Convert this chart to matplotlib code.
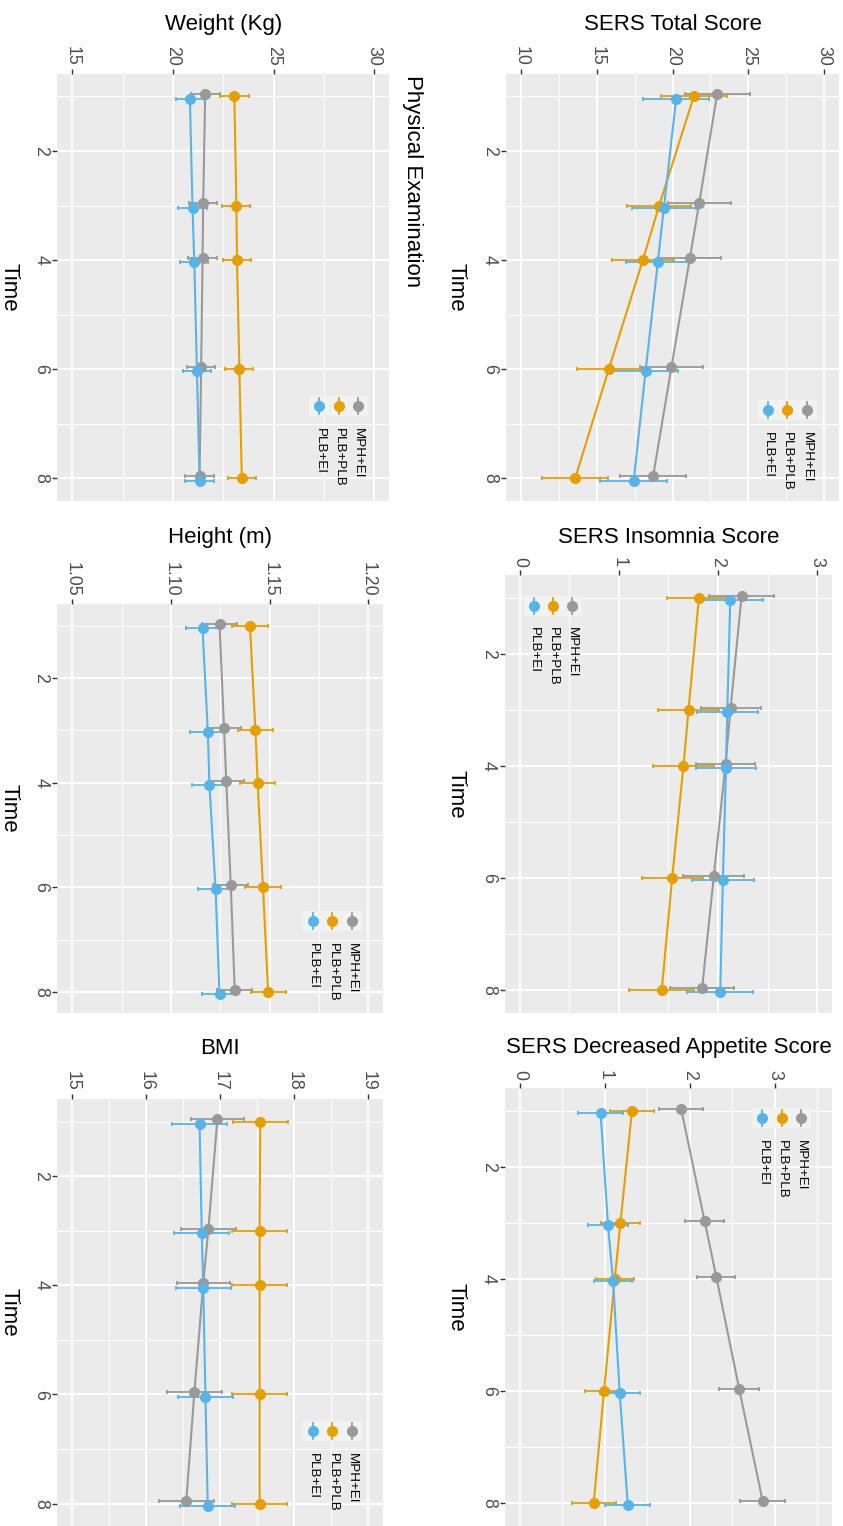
import matplotlib
matplotlib.use('Agg')
import matplotlib.pyplot as plt
from matplotlib.lines import Line2D
from matplotlib.patches import Rectangle
import numpy as np

plt.rcParams['font.family'] = ['Liberation Sans', 'DejaVu Sans']

W, H = 843, 1526
DPI = 100

# ---------------- data ----------------
time_points = [1, 3, 4, 6, 8]
groups = ['MPH+EI', 'PLB+PLB', 'PLB+EI']
colors = {'MPH+EI': '#999999', 'PLB+PLB': '#E69F00', 'PLB+EI': '#56B4E9'}

total_mph = [22.95, 21.76, 21.15, 19.93, 18.72]
total_mph_se = [2.15, 2.08, 2.08, 2.07, 2.16]
total_plb = [21.41, 19.12, 18.04, 15.79, 13.57]
total_plb_se = [2.18, 2.12, 2.07, 2.10, 2.17]
total_ei = [20.24, 19.43, 19.03, 18.22, 17.44]
total_ei_se = [2.18, 2.13, 2.12, 2.12, 2.20]

insom_mph = [2.238, 2.127, 2.076, 1.958, 1.840]
insom_mph_se = [0.326, 0.303, 0.301, 0.307, 0.325]
insom_plb = [1.807, 1.702, 1.651, 1.537, 1.432]
insom_plb_se = [0.327, 0.305, 0.308, 0.307, 0.329]
insom_ei = [2.123, 2.093, 2.080, 2.049, 2.022]
insom_ei_se = [0.331, 0.310, 0.307, 0.312, 0.335]

appet_mph = [1.899, 2.175, 2.313, 2.582, 2.858]
appet_mph_se = [0.260, 0.229, 0.223, 0.233, 0.262]
appet_plb = [1.319, 1.184, 1.117, 0.991, 0.869]
appet_plb_se = [0.257, 0.229, 0.225, 0.229, 0.260]
appet_ei = [0.951, 1.038, 1.098, 1.176, 1.271]
appet_ei_se = [0.266, 0.233, 0.225, 0.237, 0.265]

weight_mph = [21.60, 21.50, 21.47, 21.40, 21.32]
weight_mph_se = [0.72, 0.70, 0.70, 0.70, 0.71]
weight_plb = [23.05, 23.15, 23.18, 23.30, 23.42]
weight_plb_se = [0.71, 0.70, 0.70, 0.70, 0.71]
weight_ei = [20.84, 20.97, 21.06, 21.19, 21.32]
weight_ei_se = [0.71, 0.70, 0.70, 0.70, 0.71]

height_mph = [1.1246, 1.1269, 1.1280, 1.1303, 1.1323]
height_mph_se = [0.0088, 0.0088, 0.0088, 0.0088, 0.0088]
height_plb = [1.1400, 1.1428, 1.1439, 1.1466, 1.1492]
height_plb_se = [0.0089, 0.0089, 0.0089, 0.0089, 0.0089]
height_ei = [1.1160, 1.1187, 1.1195, 1.1226, 1.1246]
height_ei_se = [0.0085, 0.0088, 0.0088, 0.0088, 0.0088]

bmi_mph = [16.96, 16.84, 16.77, 16.65, 16.54]
bmi_mph_se = [0.36, 0.37, 0.36, 0.37, 0.37]
bmi_plb = [17.54, 17.53, 17.53, 17.53, 17.53]
bmi_plb_se = [0.37, 0.37, 0.37, 0.37, 0.37]
bmi_ei = [16.72, 16.75, 16.77, 16.80, 16.83]
bmi_ei_se = [0.37, 0.37, 0.37, 0.37, 0.37]

# ---------------- helpers ----------------
fig = plt.figure(figsize=(W / DPI, H / DPI), dpi=DPI)
fig.patch.set_facecolor('white')


def fx(x):
    return x / W


def fy(y):
    return 1 - y / H


dodge = {'MPH+EI': -0.04, 'PLB+PLB': 0.0, 'PLB+EI': 0.04}
TLIM = (8.41, 0.59)


def add_panel(box, title, title_base, xlim, majors, minors, fmt, series,
              legend, time_label_x):
    x0, x1, y0, y1 = box
    ax = fig.add_axes([fx(x0), fy(y1), (x1 - x0) / W, (y1 - y0) / H])
    ax.set_facecolor('#EBEBEB')
    ax.set_xlim(*xlim)
    ax.set_ylim(*TLIM)
    ax.set_xticks(majors)
    ax.set_xticks(minors, minor=True)
    ax.set_xticklabels([fmt.format(v) for v in majors], rotation=270)
    ax.set_yticks([2, 4, 6, 8])
    ax.set_yticks([1, 3, 5, 7], minor=True)
    ax.set_yticklabels(['2', '4', '6', '8'], rotation=270)
    for lbl in ax.get_yticklabels():
        lbl.set_va('center')
    ax.xaxis.tick_top()
    ax.tick_params(which='major', length=3.8, width=1.0, color='#333333',
                   labelcolor='#4D4D4D', labelsize=12.8, pad=2)
    ax.tick_params(which='minor', length=0)
    ax.grid(which='major', color='white', lw=1.4)
    ax.grid(which='minor', color='white', lw=0.7)
    for s in ax.spines.values():
        s.set_visible(False)
    ax.set_axisbelow(True)

    t = np.array(time_points, dtype=float)
    for z, g in enumerate(groups):
        m, se = series[g]
        c = colors[g]
        tt = t + dodge[g]
        ax.errorbar(m, tt, xerr=se, fmt='none', ecolor=c, elinewidth=1.3,
                    capsize=1.6, capthick=1.3, zorder=3 + z * 0.1)
    for z, g in enumerate(groups):
        m, se = series[g]
        tt = t + dodge[g]
        ax.plot(m, tt, color=colors[g], lw=1.5, zorder=4 + z * 0.1)
    for z, g in enumerate(groups):
        m, se = series[g]
        tt = t + dodge[g]
        ax.plot(m, tt, 'o', color=colors[g], ms=7, zorder=5 + z * 0.1)

    # title
    cx = (x0 + x1) / 2
    fig.text(fx(cx), fy(title_base), title, ha='center', va='baseline',
             fontsize=16, color='black')
    # Time label
    fig.text(fx(time_label_x), fy((y0 + y1) / 2), 'Time', rotation=270,
             ha='center', va='center', fontsize=16, color='black')

    # legend
    gx, ky, ltop = legend
    step = 19.3
    fig.add_artist(Rectangle((fx(gx - 2 * step - 10), fy(ky + 10)),
                             (2 * step + 20) / W, 20 / H,
                             transform=fig.transFigure, facecolor='#F2F2F2',
                             edgecolor='none'))
    for i, g in enumerate(groups):
        kx = gx - i * step
        c = colors[g]
        fig.add_artist(Line2D([fx(kx), fx(kx)], [fy(ky - 8), fy(ky + 8)],
                              transform=fig.transFigure, color=c, lw=1.3))
        fig.add_artist(Line2D([fx(kx)], [fy(ky)], marker='o', ms=7,
                              color=c, transform=fig.transFigure))
        fig.text(fx(kx), fy(ltop), g, rotation=270, ha='center', va='top',
                 fontsize=9.6, color='black')
    return ax


add_panel((506, 839, 74, 500.7), 'SERS Total Score', 30, (9, 31),
          [10, 15, 20, 25, 30], [12.5, 17.5, 22.5, 27.5], '{:g}',
          {'MPH+EI': (total_mph, total_mph_se),
           'PLB+PLB': (total_plb, total_plb_se),
           'PLB+EI': (total_ei, total_ei_se)},
          (806.5, 409.5, 432.5), 456)

add_panel((505, 832, 575, 1012.7), 'SERS Insomnia Score', 543,
          (-0.15, 3.15), [0, 1, 2, 3], [0.5, 1.5, 2.5], '{:g}',
          {'MPH+EI': (insom_mph, insom_mph_se),
           'PLB+PLB': (insom_plb, insom_plb_se),
           'PLB+EI': (insom_ei, insom_ei_se)},
          (572.3, 605.7, 627), 456)

add_panel((505, 832, 1088.3, 1526), 'SERS Decreased Appetite Score', 1053,
          (-0.175, 3.675), [0, 1, 2, 3], [0.5, 1.5, 2.5, 3.5], '{:g}',
          {'MPH+EI': (appet_mph, appet_mph_se),
           'PLB+PLB': (appet_plb, appet_plb_se),
           'PLB+EI': (appet_ei, appet_ei_se)},
          (801, 1118.3, 1140.5), 456)

add_panel((57.3, 389.3, 74, 500.7), 'Weight (Kg)', 30, (14.25, 30.75),
          [15, 20, 25, 30], [17.5, 22.5, 27.5], '{:g}',
          {'MPH+EI': (weight_mph, weight_mph_se),
           'PLB+PLB': (weight_plb, weight_plb_se),
           'PLB+EI': (weight_ei, weight_ei_se)},
          (358, 405.7, 427.7), 9)

add_panel((57.3, 383.3, 604.3, 1013.3), 'Height (m)', 543, (1.0425, 1.2075),
          [1.05, 1.10, 1.15, 1.20], [1.075, 1.125, 1.175], '{:.2f}',
          {'MPH+EI': (height_mph, height_mph_se),
           'PLB+PLB': (height_plb, height_plb_se),
           'PLB+EI': (height_ei, height_ei_se)},
          (351.7, 920.7, 942.7), 9)

add_panel((57.3, 383.3, 1099.3, 1526), 'BMI', 1054, (14.8, 19.2),
          [15, 16, 17, 18, 19], [15.5, 16.5, 17.5, 18.5], '{:g}',
          {'MPH+EI': (bmi_mph, bmi_mph_se),
           'PLB+PLB': (bmi_plb, bmi_plb_se),
           'PLB+EI': (bmi_ei, bmi_ei_se)},
          (351.7, 1430.7, 1452.7), 9)

fig.text(fx(412), fy(75), 'Physical Examination', rotation=270,
         ha='center', va='top', fontsize=16, color='black')

fig.savefig('out.png', dpi=DPI, facecolor='white')
